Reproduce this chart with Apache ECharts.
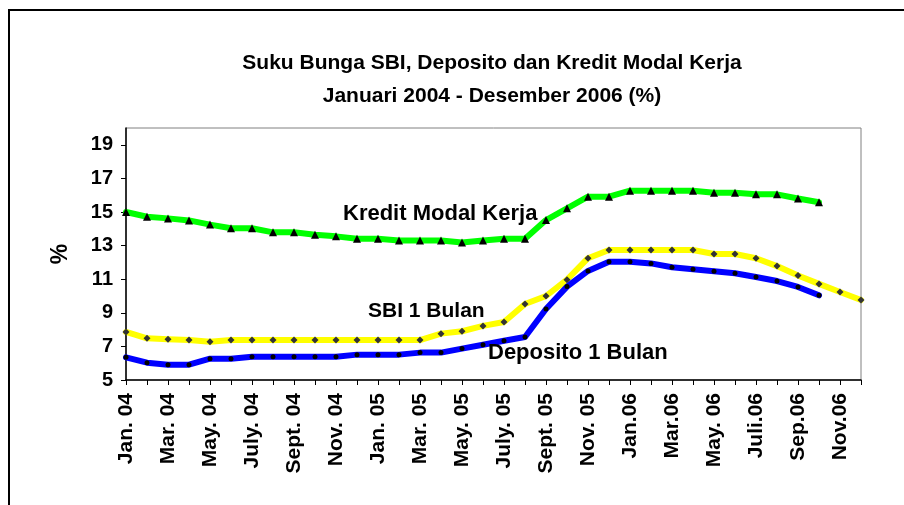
<!DOCTYPE html>
<html>
<head>
    <meta http-equiv="Content-Type" content="text/html; charset=utf-8"/>
    <title>Suku Bunga SBI, Deposito dan Kredit Modal Kerja</title>
    <script type="text/javascript" src="https://cdn.jsdelivr.net/npm/echarts@6/dist/echarts.min.js"></script>
    <style>
        html, body { margin: 0; padding: 0; background: #fff; }
    </style>
</head>
<body>
<div id="main" style="width: 904px;height:505px;"></div>
<script type="text/javascript">
    // bulan Jan 2004 - Des 2006 (label yang tampil: tiap 2 bulan)
    var months = [
        'Jan. 04', 'Feb. 04', 'Mar. 04', 'Apr. 04', 'May. 04', 'June. 04',
        'July. 04', 'Aug. 04', 'Sept. 04', 'Oct. 04', 'Nov. 04', 'Dec. 04',
        'Jan. 05', 'Feb. 05', 'Mar. 05', 'Apr. 05', 'May. 05', 'June. 05',
        'July. 05', 'Aug. 05', 'Sept. 05', 'Oct. 05', 'Nov. 05', 'Dec. 05',
        'Jan.06', 'Feb.06', 'Mar.06', 'Apr.06', 'May. 06', 'Juni.06',
        'Juli.06', 'Agt.06', 'Sep.06', 'Okt.06', 'Nov.06', 'Des.06'
    ];
    // Kredit Modal Kerja (sampai Okt 06)
    var kmk = [15.0, 14.72, 14.62, 14.5, 14.25, 14.03, 14.03, 13.79, 13.79, 13.65, 13.55, 13.41,
               13.41, 13.31, 13.31, 13.31, 13.19, 13.31, 13.41, 13.41, 14.52, 15.22, 15.91, 15.91,
               16.27, 16.27, 16.27, 16.27, 16.15, 16.15, 16.05, 16.05, 15.8, 15.58];
    // SBI 1 Bulan
    var sbi = [7.86, 7.48, 7.42, 7.38, 7.28, 7.38, 7.38, 7.38, 7.38, 7.38, 7.38, 7.38,
               7.38, 7.38, 7.38, 7.76, 7.9, 8.22, 8.45, 9.52, 10.0, 10.97, 12.25, 12.74,
               12.74, 12.74, 12.74, 12.74, 12.5, 12.5, 12.25, 11.78, 11.22, 10.72, 10.24, 9.76];
    // Deposito 1 Bulan (sampai Okt 06)
    var deposito = [6.35, 6.03, 5.91, 5.91, 6.27, 6.27, 6.39, 6.39, 6.39, 6.39, 6.39, 6.51,
                    6.51, 6.51, 6.63, 6.63, 6.87, 7.1, 7.34, 7.56, 9.23, 10.56, 11.49, 12.04,
                    12.04, 11.94, 11.71, 11.59, 11.47, 11.35, 11.13, 10.89, 10.54, 10.04];
    var yTicks = [5, 7, 9, 11, 13, 15, 17, 19];

    var myChart = echarts.init(document.getElementById('main'));
    var bold = 'bold';
    var font = 'Liberation Sans, Arial, sans-serif';

    var option = {
        animation: false,
        backgroundColor: '#fff',
        title: {
            text: 'Suku Bunga SBI, Deposito dan Kredit Modal Kerja\nJanuari 2004 - Desember 2006 (%)',
            left: 487,
            top: 42,
            textAlign: 'center',
            textStyle: {
                fontFamily: font,
                fontWeight: bold,
                fontSize: 21,
                lineHeight: 33,
                color: '#000'
            }
        },
        grid: {
            left: 126,
            right: 43,
            top: 128,
            bottom: 125,
            show: true,
            borderColor: '#808080',
            borderWidth: 1,
            backgroundColor: 'transparent'
        },
        xAxis: {
            type: 'category',
            boundaryGap: false,
            data: months,
            axisLine: { lineStyle: { color: '#000', width: 1.5 } },
            axisTick: { show: true, interval: 0, length: 5, inside: false, lineStyle: { color: '#000' } },
            axisLabel: {
                interval: 1,
                rotate: 90,
                margin: 13,
                color: '#000',
                fontFamily: font,
                fontWeight: bold,
                fontSize: 21
            },
            splitLine: { show: false }
        },
        yAxis: {
            type: 'value',
            min: 5,
            max: 20,
            name: '%',
            nameLocation: 'middle',
            nameRotate: 90,
            nameGap: 54,
            nameTextStyle: {
                fontFamily: font,
                fontWeight: bold,
                fontSize: 23,
                color: '#000'
            },
            axisLine: { show: true, lineStyle: { color: '#000', width: 1.5 } },
            axisTick: { show: true, length: 5, customValues: yTicks, lineStyle: { color: '#000' } },
            axisLabel: {
                customValues: yTicks,
                margin: 13,
                color: '#000',
                fontFamily: font,
                fontWeight: bold,
                fontSize: 20
            },
            splitLine: { show: false }
        },
        series: [
            {
                name: 'SBI 1 Bulan',
                type: 'line',
                data: sbi,
                symbol: 'diamond',
                symbolSize: 7,
                showAllSymbol: true,
                lineStyle: { color: '#ffff00', width: 6, join: 'round', cap: 'round' },
                itemStyle: { color: '#333', borderWidth: 0 },
                z: 2
            },
            {
                name: 'Deposito 1 Bulan',
                type: 'line',
                data: deposito,
                symbol: 'circle',
                symbolSize: 5,
                showAllSymbol: true,
                lineStyle: { color: '#0000ff', width: 6, join: 'round', cap: 'round' },
                itemStyle: { color: '#000', borderWidth: 0 },
                z: 3
            },
            {
                name: 'Kredit Modal Kerja',
                type: 'line',
                data: kmk,
                symbol: 'triangle',
                symbolSize: 8,
                showAllSymbol: true,
                lineStyle: { color: '#00ff00', width: 6, join: 'round', cap: 'round' },
                itemStyle: { color: '#000', borderWidth: 0 },
                z: 4
            }
        ],
        graphic: [
            {
                type: 'rect',
                shape: { x: 9, y: 10, width: 1000, height: 600 },
                style: { fill: 'none', stroke: '#000', lineWidth: 2 },
                silent: true
            },
            {
                type: 'text', left: 343, top: 203, z: 10,
                style: { text: 'Kredit Modal Kerja', font: 'bold 22px ' + font, fill: '#000' }
            },
            {
                type: 'text', left: 368, top: 301, z: 10,
                style: { text: 'SBI 1 Bulan', font: 'bold 21px ' + font, fill: '#000' }
            },
            {
                type: 'text', left: 488, top: 342, z: 10,
                style: { text: 'Deposito 1 Bulan', font: 'bold 22px ' + font, fill: '#000' }
            }
        ]
    };
    myChart.setOption(option);
</script>
</body>
</html>
